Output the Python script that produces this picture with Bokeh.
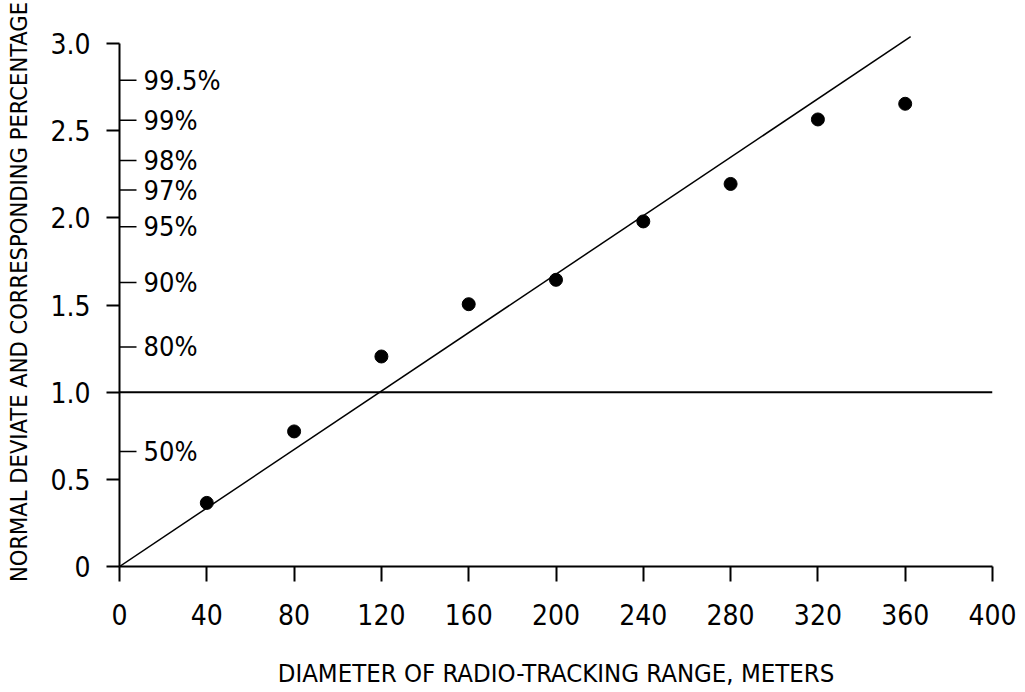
from bokeh.plotting import figure
from bokeh.models import Range1d, FixedTicker
from bokeh.core.properties import value
from bokeh.embed import file_html
from bokeh.resources import INLINE

# ---- data ----
diameter_m = [40, 80, 120, 160, 200, 240, 280, 320, 360]
normal_dev = [0.365, 0.775, 1.205, 1.505, 1.645, 1.98, 2.195, 2.565, 2.655]

fit_x = [0, 362.5]
fit_y = [0.0, 3.04]

ref_x = [0, 400]
ref_y = [1.0, 1.0]

x_ticks = [0, 40, 80, 120, 160, 200, 240, 280, 320, 360, 400]
y_ticks = [0, 0.5, 1.0, 1.5, 2.0, 2.5, 3.0]
y_tick_labels = ["0", "0.5", "1.0", "1.5", "2.0", "2.5", "3.0"]

pct_labels = ["50%", "80%", "90%", "95%", "97%", "98%", "99%", "99.5%"]
pct_z = [0.66, 1.26, 1.63, 1.95, 2.16, 2.33, 2.56, 2.79]

FONT = "'DejaVu Sans Condensed', 'Liberation Sans Narrow', 'Liberation Sans', sans-serif"

p = figure(width=1017, height=690,
           x_range=Range1d(0, 400), y_range=Range1d(0, 3.15),
           output_backend="svg", toolbar_location=None,
           min_border_left=119, min_border_right=25,
           min_border_top=17, min_border_bottom=123)
p.outline_line_color = None
p.grid.visible = False
p.background_fill_color = "white"

# x axis
xa = p.xaxis[0]
xa.ticker = FixedTicker(ticks=x_ticks)
xa.bounds = (0, 400)
xa.axis_line_width = 2
xa.major_tick_line_width = 2
xa.major_tick_out = 15
xa.major_tick_in = 0
xa.minor_tick_line_color = None
xa.major_label_standoff = 22
xa.major_label_text_font = FONT
xa.major_label_text_font_size = "28px"
xa.major_label_text_color = "black"
xa.axis_label = "DIAMETER OF RADIO-TRACKING RANGE, METERS"
xa.axis_label_text_font = FONT
xa.axis_label_text_font_size = "25.5px"
xa.axis_label_text_font_style = "normal"
xa.axis_label_text_color = "black"
xa.axis_label_standoff = 30

# y axis
ya = p.yaxis[0]
ya.ticker = FixedTicker(ticks=y_ticks)
ya.major_label_overrides = {t: l for t, l in zip(y_ticks, y_tick_labels)}
ya.bounds = (0, 3.0)
ya.axis_line_width = 2
ya.major_tick_line_width = 2
ya.major_tick_out = 13
ya.major_tick_in = 0
ya.minor_tick_line_color = None
ya.major_label_standoff = 16
ya.major_label_text_font = FONT
ya.major_label_text_font_size = "28px"
ya.major_label_text_color = "black"
ya.axis_label = "NORMAL DEVIATE AND CORRESPONDING PERCENTAGE"
ya.axis_label_text_font = FONT
ya.axis_label_text_font_size = "23.5px"
ya.axis_label_text_font_style = "normal"
ya.axis_label_text_color = "black"
ya.axis_label_standoff = 14

# percentage scale ticks (inside, to the right of the y axis)
p.ray(x=[0] * len(pct_z), y=pct_z, length=17, length_units="screen",
      angle=0, line_color="black", line_width=1.5)
p.text(x=[0] * len(pct_z), y=pct_z, text=pct_labels, x_offset=24,
       text_baseline="middle", text_align="left",
       text_font=value(FONT), text_font_size="27px", text_color="black")

# reference line at normal deviate 1.0
p.line(ref_x, ref_y, line_color="black", line_width=2)

# fitted line
p.line(fit_x, fit_y, line_color="black", line_width=1.5)

# observed points
p.scatter(diameter_m, normal_dev, size=13, color="black")

open("out.html", "w").write(file_html(p, INLINE))
